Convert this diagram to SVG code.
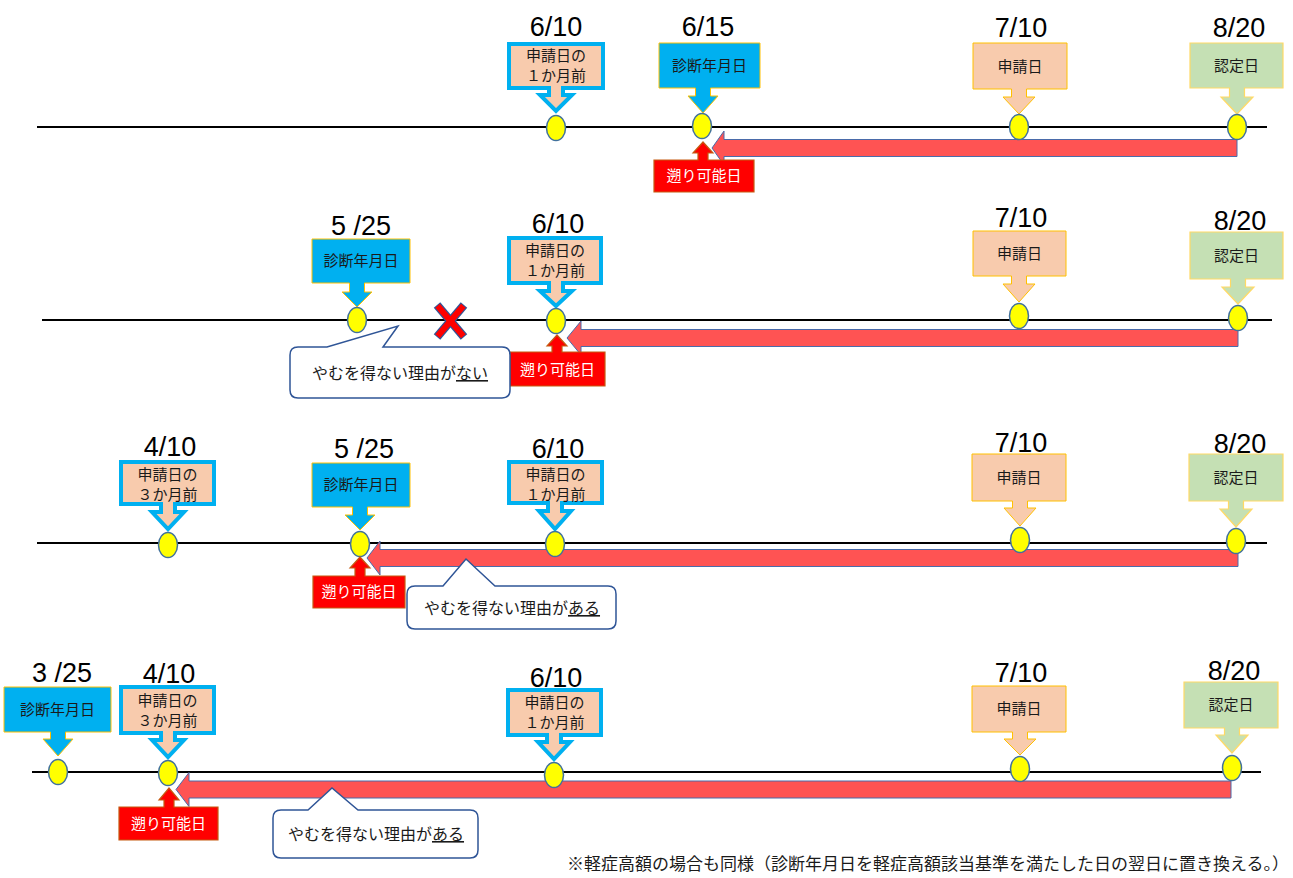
<svg xmlns="http://www.w3.org/2000/svg" width="1293" height="878" viewBox="0 0 1293 878">
<style>
.date{font-family:"Liberation Sans",Arial,sans-serif;font-size:27px;text-anchor:middle;fill:#000}
.jp{font-family:"Noto Sans CJK JP","Noto Sans",sans-serif;font-size:15px;text-anchor:middle;fill:#1a1a1a}
.wt{fill:#fff}
.bt{font-size:16px}
.blue{fill:#00B0F0;stroke:#FFC000;stroke-width:1}
.pk1{fill:#F8CBAD;stroke:#00B0F0;stroke-width:4}
.pk2{fill:#F8CBAD;stroke:#FFC000;stroke-width:1}
.grn{fill:#C5E0B4;stroke:#FFD966;stroke-width:1.2}
.pt{fill:#FFFF00;stroke:#41719C;stroke-width:1.5}
.bar{fill:#FF5353;stroke:#4A6BAA;stroke-width:1}
.lbl{fill:#FF0000;stroke:#C55A11;stroke-width:1.2}
.bub{fill:#fff;stroke:#2F5597;stroke-width:1.5}
.axis{stroke:#000;stroke-width:2}
.note{font-family:"Noto Sans CJK JP","Noto Sans",sans-serif;font-size:16.5px;fill:#1a1a1a}
</style>

<g id="axes">
<line class="axis" x1="37" y1="127" x2="1267" y2="127"/>
<line class="axis" x1="42" y1="320" x2="1272" y2="320"/>
<line class="axis" x1="37" y1="543" x2="1267" y2="543"/>
<line class="axis" x1="32" y1="772" x2="1261" y2="772"/>
</g>

<g id="connectors">
<path class="bar" d="M712 148 L724 131 V139.5 H1237 V156.5 H724 V165 Z"/>
<path class="bar" d="M567 338 L581 321 V329.5 H1238 V346.5 H581 V355 Z"/>
<path class="bar" d="M367 558 L380 541 V549.5 H1238 V566.5 H380 V575 Z"/>
<path class="bar" d="M176 789.5 L189 772.5 V781 H1231 V798 H189 V806.5 Z"/>
</g>

<!-- Row 1 -->
<g id="r1-610">
<text class="date" x="556" y="36">6/10</text>
<path class="pk1" d="M509 44 H603 V88 H563 V95 H572 L556 111 L540 95 H549 V88 H509 Z"/>
<text class="jp" x="556" y="61">申請日の</text>
<text class="jp" x="556" y="81">１か月前</text>
<ellipse class="pt" cx="556" cy="128" rx="9.5" ry="12.5"/>
</g>
<g id="r1-615">
<text class="date" x="708" y="36">6/15</text>
<path class="blue" d="M659 43 H760 V88 H710.5 V96 H718 L703 113 L688 96 H695.5 V88 H659 Z"/>
<text class="jp" x="709.5" y="71">診断年月日</text>
<ellipse class="pt" cx="702" cy="126" rx="9.5" ry="12.5"/>
</g>
<g id="r1-710">
<text class="date" x="1021" y="37">7/10</text>
<path class="pk2" d="M973 43 H1067 V89 H1026.5 V97 H1035 L1019 114 L1003 97 H1011.5 V89 H973 Z"/>
<text class="jp" x="1020" y="72">申請日</text>
<ellipse class="pt" cx="1019" cy="127" rx="9.5" ry="12.5"/>
</g>
<g id="r1-820">
<text class="date" x="1239" y="37">8/20</text>
<path class="grn" d="M1190 43 H1283 V88 H1244.5 V97 H1253 L1237 114 L1221 97 H1229.5 V88 H1190 Z"/>
<text class="jp" x="1236.5" y="71">認定日</text>
<ellipse class="pt" cx="1237" cy="127" rx="9.5" ry="12.5"/>
</g>
<g id="r1-retro">
<path class="lbl" d="M654 160 H698 V153 H693 L703 142 L713 153 H708 V160 H754 V192 H654 Z"/>
<text class="jp wt" x="704" y="181">遡り可能日</text>
</g>

<!-- Row 2 -->
<g id="r2-525">
<text class="date" x="361" y="235">5 /25</text>
<path class="blue" d="M312 239 H410 V283 H364.5 V292 H372 L357 307 L342 292 H349.5 V283 H312 Z"/>
<text class="jp" x="361" y="266">診断年月日</text>
<ellipse class="pt" cx="357" cy="320" rx="9.5" ry="12.5"/>
</g>
<g id="r2-610">
<text class="date" x="558" y="233">6/10</text>
<path class="pk1" d="M509 238 H601 V283 H563 V291 H572 L556 306 L540 291 H549 V283 H509 Z"/>
<text class="jp" x="555" y="255.5">申請日の</text>
<text class="jp" x="555" y="275.5">１か月前</text>
<ellipse class="pt" cx="556" cy="321" rx="9.5" ry="12.5"/>
</g>
<g id="r2-710">
<text class="date" x="1021" y="227">7/10</text>
<path class="pk2" d="M973 231 H1066 V276 H1026.5 V284 H1035 L1019 302 L1003 284 H1011.5 V276 H973 Z"/>
<text class="jp" x="1019.5" y="259">申請日</text>
<ellipse class="pt" cx="1019" cy="316" rx="9.5" ry="12.5"/>
</g>
<g id="r2-820">
<text class="date" x="1240" y="230">8/20</text>
<path class="grn" d="M1190 232 H1283 V279 H1245.5 V287 H1254 L1238 304 L1222 287 H1230.5 V279 H1190 Z"/>
<text class="jp" x="1236.5" y="261">認定日</text>
<ellipse class="pt" cx="1238" cy="318" rx="9.5" ry="12.5"/>
</g>
<g id="r2-retro">
<path class="lbl" d="M510 352 H552 V346 H547 L557 335 L567 346 H562 V352 H605 V386 H510 Z"/>
<text class="jp wt" x="557.5" y="375">遡り可能日</text>
</g>
<g id="r2-x">
<line x1="437" y1="305" x2="464" y2="337" stroke="#2F5597" stroke-width="8.5"/>
<line x1="464" y1="305" x2="437" y2="337" stroke="#2F5597" stroke-width="8.5"/>
<line x1="437.6" y1="305.7" x2="463.4" y2="336.3" stroke="#FF0000" stroke-width="6"/>
<line x1="463.4" y1="305.7" x2="437.6" y2="336.3" stroke="#FF0000" stroke-width="6"/>
</g>
<g id="r2-bubble">
<path class="bub" d="M298 347 H327 L398 326 L383 347 H502 Q510 347 510 355 V390 Q510 398 502 398 H298 Q290 398 290 390 V355 Q290 347 298 347 Z"/>
<text class="jp bt" x="400" y="379">やむを得ない理由が<tspan text-decoration="underline">ない</tspan></text>
</g>

<!-- Row 3 -->
<g id="r3-410">
<text class="date" x="170" y="456">4/10</text>
<path class="pk1" d="M121 462 H214 V504 H175 V512 H184 L168 529 L152 512 H161 V504 H121 Z"/>
<text class="jp" x="167.5" y="479.5">申請日の</text>
<text class="jp" x="167.5" y="499.5">３か月前</text>
<ellipse class="pt" cx="168" cy="545" rx="9.5" ry="12.5"/>
</g>
<g id="r3-525">
<text class="date" x="364" y="458">5 /25</text>
<path class="blue" d="M312 463 H410 V507 H367.5 V515 H375 L360 530 L345 515 H352.5 V507 H312 Z"/>
<text class="jp" x="361" y="490">診断年月日</text>
<ellipse class="pt" cx="360" cy="544" rx="9.5" ry="12.5"/>
</g>
<g id="r3-610">
<text class="date" x="558" y="458">6/10</text>
<path class="pk1" d="M509 462 H602 V503 H562 V511 H571 L555 529 L539 511 H548 V503 H509 Z"/>
<text class="jp" x="555.5" y="479.5">申請日の</text>
<text class="jp" x="555.5" y="499.5">１か月前</text>
<ellipse class="pt" cx="555" cy="544" rx="9.5" ry="12.5"/>
</g>
<g id="r3-710">
<text class="date" x="1021" y="452">7/10</text>
<path class="pk2" d="M972 454 H1066 V501 H1027.5 V508 H1036 L1020 526 L1004 508 H1012.5 V501 H972 Z"/>
<text class="jp" x="1019" y="483">申請日</text>
<ellipse class="pt" cx="1020" cy="540" rx="9.5" ry="12.5"/>
</g>
<g id="r3-820">
<text class="date" x="1240" y="453">8/20</text>
<path class="grn" d="M1189 454 H1283 V501 H1243.5 V509 H1252 L1236 527 L1220 509 H1228.5 V501 H1189 Z"/>
<text class="jp" x="1236" y="483">認定日</text>
<ellipse class="pt" cx="1236" cy="541" rx="9.5" ry="12.5"/>
</g>
<g id="r3-retro">
<path class="lbl" d="M313 576 H355 V568 H350 L360 557 L370 568 H365 V576 H405 V608 H313 Z"/>
<text class="jp wt" x="359" y="597">遡り可能日</text>
</g>
<g id="r3-bubble">
<path class="bub" d="M415 586 H443 L466 559 L495 586 H608 Q616 586 616 594 V621 Q616 629 608 629 H415 Q407 629 407 621 V594 Q407 586 415 586 Z"/>
<text class="jp bt" x="512" y="614">やむを得ない理由が<tspan text-decoration="underline">ある</tspan></text>
</g>

<!-- Row 4 -->
<g id="r4-325">
<text class="date" x="62" y="682">3 /25</text>
<path class="blue" d="M4 687 H111 V732 H65.5 V739 H73 L58 756 L43 739 H50.5 V732 H4 Z"/>
<text class="jp" x="57.5" y="715">診断年月日</text>
<ellipse class="pt" cx="58" cy="772" rx="9.5" ry="12.5"/>
</g>
<g id="r4-410">
<text class="date" x="169" y="683">4/10</text>
<path class="pk1" d="M121 687 H214 V733 H175 V740 H184 L168 757 L152 740 H161 V733 H121 Z"/>
<text class="jp" x="167.5" y="706">申請日の</text>
<text class="jp" x="167.5" y="726">３か月前</text>
<ellipse class="pt" cx="168" cy="773" rx="9.5" ry="12.5"/>
</g>
<g id="r4-610">
<text class="date" x="556" y="687">6/10</text>
<path class="pk1" d="M508 690 H601 V735 H561 V742 H570 L554 759 L538 742 H547 V735 H508 Z"/>
<text class="jp" x="554.5" y="708">申請日の</text>
<text class="jp" x="554.5" y="728">１か月前</text>
<ellipse class="pt" cx="554" cy="775" rx="9.5" ry="12.5"/>
</g>
<g id="r4-710">
<text class="date" x="1021" y="682">7/10</text>
<path class="pk2" d="M972 686 H1066 V732 H1027.5 V739 H1036 L1020 755 L1004 739 H1012.5 V732 H972 Z"/>
<text class="jp" x="1019" y="714">申請日</text>
<ellipse class="pt" cx="1020" cy="769" rx="9.5" ry="12.5"/>
</g>
<g id="r4-820">
<text class="date" x="1234" y="680">8/20</text>
<path class="grn" d="M1184 682 H1278 V728 H1239.5 V735 H1248 L1232 753 L1216 735 H1224.5 V728 H1184 Z"/>
<text class="jp" x="1231" y="710">認定日</text>
<ellipse class="pt" cx="1232" cy="768" rx="9.5" ry="12.5"/>
</g>
<g id="r4-retro">
<path class="lbl" d="M119 807 H164 V800 H159 L169 788 L179 800 H174 V807 H218 V840 H119 Z"/>
<text class="jp wt" x="168.5" y="829">遡り可能日</text>
</g>
<g id="r4-bubble">
<path class="bub" d="M281 810 H308 L332 788 L358 810 H470 Q478 810 478 818 V850 Q478 858 470 858 H281 Q273 858 273 850 V818 Q273 810 281 810 Z"/>
<text class="jp bt" x="376" y="840">やむを得ない理由が<tspan text-decoration="underline">ある</tspan></text>
</g>

<g id="footnote">
<text class="note" x="567" y="870" textLength="722" lengthAdjust="spacingAndGlyphs">※軽症高額の場合も同様（診断年月日を軽症高額該当基準を満たした日の翌日に置き換える。）</text>
</g>
</svg>
